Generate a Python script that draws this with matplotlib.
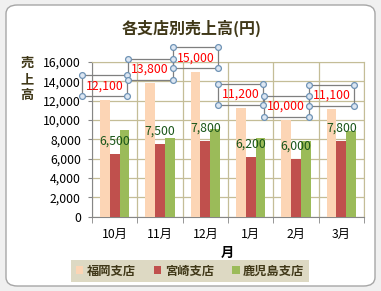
import matplotlib.pyplot as plt
import numpy as np
from matplotlib.patches import FancyBboxPatch, Rectangle
from matplotlib.transforms import ScaledTranslation

plt.rcParams['font.family'] = ['Noto Sans CJK JP', 'DejaVu Sans']

# データ
months = ['10月', '11月', '12月', '1月', '2月', '3月']
stores = ['福岡支店', '宮崎支店', '鹿児島支店']
fukuoka = [12100, 13800, 15000, 11200, 10000, 11100]
miyazaki = [6500, 7500, 7800, 6200, 6000, 7800]
kagoshima = [9000, 8100, 9100, 8100, 7800, 8900]
y_ticks = [0, 2000, 4000, 6000, 8000, 10000, 12000, 14000, 16000]

colors = ['#FCD5B5', '#C0504D', '#9BBB59']
grid_col = '#C4BD97'
axis_col = '#868686'
text_col = '#403818'

fig = plt.figure(figsize=(3.81, 2.91), dpi=100)
fig.patch.set_facecolor('#F0F0F0')

# グラフエリア (角丸の枠)
frame = FancyBboxPatch((6 / 381, 5 / 291), 369 / 381, 281 / 291,
                       boxstyle='round,pad=0,rounding_size=0.03',
                       transform=fig.transFigure, fc='white', ec='#A6A6A6',
                       lw=1.0, zorder=-10)
fig.patches.append(frame)

ax = fig.add_axes([92 / 381, 1 - 216.7 / 291, 272 / 381, (216.7 - 62) / 291])
ax.set_facecolor('white')

x = np.arange(len(months))
w = 0.218
ax.bar(x - w, fukuoka, w, color=colors[0], label=stores[0], zorder=3)
ax.bar(x, miyazaki, w, color=colors[1], label=stores[1], zorder=3)
ax.bar(x + w, kagoshima, w, color=colors[2], label=stores[2], zorder=3)

ax.set_xlim(-0.5, len(months) - 0.5)
ax.set_ylim(0, 16000)

ax.set_yticks(y_ticks)
ax.set_yticklabels([f'{v:,}' for v in y_ticks])
ax.set_xticks(x)
ax.set_xticklabels(months)
ax.set_xticks(np.arange(len(months) + 1) - 0.5, minor=True)
ax.tick_params(axis='x', which='major', length=0, pad=8, labelsize=8.8)
ax.tick_params(axis='x', which='minor', length=4, color=axis_col, direction='out')
ax.tick_params(axis='y', length=3, color=axis_col, direction='out', pad=5, labelsize=8.8)

ax.grid(axis='y', which='major', color=grid_col, lw=0.9, zorder=1)
ax.grid(axis='x', which='minor', color=grid_col, lw=0.9, zorder=1)
ax.set_axisbelow(True)
for s in ['top', 'right']:
    ax.spines[s].set_color(grid_col)
for s in ['left', 'bottom']:
    ax.spines[s].set_color(axis_col)

# データラベル
for i in range(len(months)):
    tr = fig.dpi_scale_trans + ScaledTranslation(x[i] - w, fukuoka[i], ax.transData)
    ax.text(0, 0.14, f'{fukuoka[i]:,}', transform=tr, ha='center', va='center',
            color='#FF0000', fontsize=8.8, zorder=5)
    ax.add_patch(Rectangle((-0.225, 0.035), 0.45, 0.21, transform=tr, fill=False,
                           ec='#7F7F7F', lw=0.9, zorder=5, clip_on=False))
    for cx, cy in [(-0.225, 0.035), (0.225, 0.035), (-0.225, 0.245), (0.225, 0.245)]:
        ax.plot(cx, cy, 'o', ms=4.2, mfc='#DCE6F2', mec='#6F93B5', mew=0.9,
                transform=tr, zorder=6, clip_on=False)

    tr2 = fig.dpi_scale_trans + ScaledTranslation(x[i], miyazaki[i], ax.transData)
    ax.text(0, 0.13, f'{miyazaki[i]:,}', transform=tr2, ha='center', va='center',
            color='#1A561A', fontsize=8.8, zorder=5)

fig.text(192 / 381, 1 - 28 / 291, '各支店別売上高(円)', ha='center', va='center',
         fontsize=11.5, fontweight='bold', color=text_col)
fig.text(27 / 381, 1 - 79 / 291, '売\n上\n高', ha='center', va='center',
         fontsize=9.5, fontweight='bold', color=text_col, linespacing=1.2)
fig.text(227 / 381, 1 - 253 / 291, '月', ha='center', va='center',
         fontsize=9.5, fontweight='bold', color='black')

leg = fig.legend(loc='center', bbox_to_anchor=(190 / 381, 1 - 271 / 291), ncol=3,
                 frameon=True, fancybox=False, facecolor='#DDD9C3', edgecolor='none',
                 framealpha=1, handlelength=0.6, handleheight=0.6, handletextpad=0.3,
                 columnspacing=1.5, borderpad=0.35, prop={'size': 8.8, 'weight': 'bold'})
for t in leg.get_texts():
    t.set_color(text_col)

fig.savefig('out.png', dpi=100, facecolor=fig.get_facecolor())
